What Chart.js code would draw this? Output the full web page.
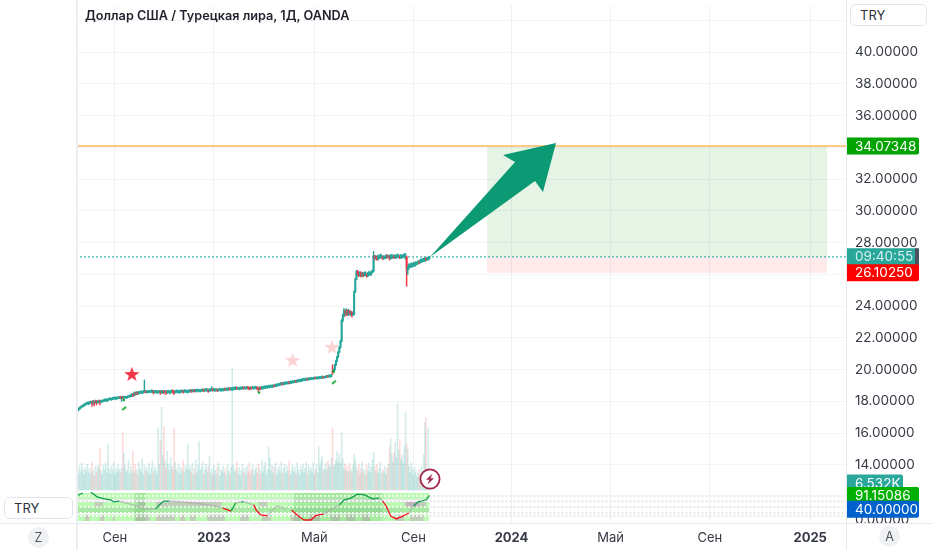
<!DOCTYPE html>
<html><head><meta charset="utf-8">
<script src="https://cdn.jsdelivr.net/npm/chart.js@4"></script>
<style>
html,body{margin:0;padding:0;background:#fff;overflow:hidden}
#wrap{position:relative;width:932px;height:550px;font-family:Inter,sans-serif;color:#2e313a}
canvas{position:absolute;left:0;top:0}
.t{position:absolute;white-space:nowrap}
#title{left:85px;top:8px;font-size:12.7px;font-weight:600;color:#1f222b}
.box{position:absolute;border:1px solid #e3e5ea;border-radius:5px;box-sizing:border-box;font-size:13px;line-height:20px;padding-left:9px;background:#fff;color:#2e313a}
.circ{position:absolute;width:21px;height:21px;border-radius:50%;background:#eff1f5;text-align:center;font-size:12.5px;line-height:21px;color:#50535e}
.vl{position:absolute;width:1px;background:#e7e9ee}
#bolt{position:absolute;left:419px;top:468px;width:22px;height:22px}
</style></head>
<body><div id="wrap">
<canvas id="c" width="932" height="550"></canvas>
<div class="vl" style="left:76px;top:0;height:550px;width:2px;background:#eceef2"></div>
<div class="vl" style="left:846px;top:0;height:550px"></div>
<div class="vl" style="left:0;top:523px;height:1px;width:932px"></div>
<div class="t" id="title">Доллар США / Турецкая лира, 1Д, OANDA</div>
<div class="box" style="left:850px;top:4px;width:77px;height:22px">TRY</div>
<div class="box" style="left:4px;top:497px;width:69px;height:22px">TRY</div>
<div class="circ" style="left:28px;top:527px">Z</div>
<div class="circ" style="left:879px;top:526px">A</div>
<svg id="bolt" viewBox="0 0 22 22"><circle cx="11" cy="11" r="9.6" fill="#fff" stroke="#a4264a" stroke-width="1.8"/><path d="M13.6 5.5 L7 11.8 L10.4 11.8 L8.4 16.5 L15 10.2 L11.6 10.2 Z" fill="#a4264a"/></svg>
</div>
<script>
const candleOpen=[
17.25,17.33,17.42,17.50,17.58,17.63,17.68,17.72,17.78,17.82,
17.86,17.88,17.90,17.93,17.96,17.88,17.98,17.94,18.00,17.92,
17.97,18.02,17.96,18.00,18.00,18.03,18.08,18.03,18.06,18.12,
18.14,18.10,18.13,18.18,18.20,18.16,18.19,18.19,18.22,18.25,
18.23,18.26,18.24,18.23,18.22,18.25,18.28,18.30,18.33,18.37,
18.42,18.38,18.52,18.46,18.56,18.50,18.50,18.54,18.52,18.56,
18.62,18.64,18.58,18.57,18.60,18.58,18.60,18.59,18.62,18.58,
18.61,18.55,18.58,18.60,18.62,18.56,18.55,18.64,18.60,18.63,
18.55,18.60,18.54,18.57,18.61,18.66,18.60,18.56,18.62,18.58,
18.61,18.57,18.60,18.61,18.64,18.62,18.60,18.63,18.58,18.61,
18.66,18.68,18.64,18.66,18.70,18.65,18.68,18.64,18.67,18.63,
18.66,18.69,18.73,18.68,18.71,18.66,18.70,18.66,18.67,18.70,
18.78,18.72,18.67,18.70,18.74,18.68,18.73,18.68,18.71,18.69,
18.72,18.78,18.74,18.72,18.75,18.80,18.76,18.72,18.78,18.77,
18.80,18.86,18.81,18.77,18.80,18.79,18.82,18.87,18.83,18.81,
18.84,18.88,18.84,18.80,18.86,18.82,18.82,18.85,18.83,18.86,
18.82,18.78,18.86,18.80,18.81,18.84,18.85,18.88,18.87,18.90,
18.89,18.92,18.91,18.94,19.00,18.96,18.97,19.00,19.01,19.04,
19.10,19.14,19.08,19.09,19.12,19.11,19.14,19.20,19.17,19.16,
19.19,19.19,19.22,19.28,19.24,19.30,19.25,19.28,19.29,19.32,
19.38,19.33,19.36,19.42,19.38,19.37,19.41,19.39,19.42,19.44,
19.48,19.45,19.43,19.46,19.48,19.45,19.49,19.54,19.50,19.52,
19.55,19.58,19.55,19.55,19.58,19.90,19.85,20.00,20.30,20.55,
20.80,21.10,21.40,21.80,23.10,23.40,23.70,23.55,23.75,23.50,
23.70,23.55,23.60,23.45,23.50,24.90,25.70,26.15,26.05,25.95,
26.10,25.90,26.05,25.95,25.95,26.00,25.90,26.05,25.95,26.00,
26.15,26.20,27.15,27.00,27.10,26.95,27.00,27.05,27.05,27.10,
27.00,27.00,27.05,27.18,27.10,27.15,27.00,27.00,27.08,27.15,
27.05,27.02,27.10,27.05,27.12,27.03,27.05,27.10,27.15,27.00,
27.10,26.30,26.45,26.42,26.50,26.48,26.55,26.52,26.60,26.62,
26.70,26.80,26.75,26.78,26.82,26.80,26.88,27.00,26.92,26.95,26.98];
const candleClose=[
17.33,17.42,17.50,17.58,17.63,17.68,17.72,17.78,17.82,17.86,
17.88,17.90,17.93,17.96,17.88,17.98,17.94,18.00,17.92,17.97,
18.02,17.96,18.00,18.05,18.03,18.08,18.10,18.06,18.12,18.14,
18.16,18.13,18.18,18.20,18.22,18.19,18.24,18.22,18.25,18.23,
18.26,18.24,18.27,18.26,18.25,18.28,18.30,18.33,18.37,18.42,
18.38,18.52,18.46,18.56,18.50,18.58,18.54,18.60,18.56,18.62,
18.64,18.58,18.62,18.60,18.63,18.60,18.65,18.62,18.58,18.61,
18.63,18.58,18.60,18.62,18.56,18.64,18.58,18.60,18.63,18.55,
18.60,18.64,18.57,18.61,18.66,18.60,18.56,18.62,18.65,18.61,
18.63,18.60,18.66,18.64,18.62,18.67,18.63,18.65,18.61,18.66,
18.68,18.64,18.66,18.70,18.65,18.68,18.72,18.67,18.70,18.66,
18.69,18.73,18.68,18.71,18.75,18.70,18.66,18.74,18.70,18.78,
18.72,18.76,18.70,18.74,18.68,18.73,18.77,18.71,18.75,18.72,
18.78,18.74,18.79,18.75,18.80,18.76,18.82,18.78,18.84,18.80,
18.86,18.81,18.84,18.80,18.85,18.82,18.87,18.83,18.86,18.84,
18.88,18.84,18.80,18.86,18.82,18.88,18.85,18.90,18.86,18.82,
18.78,18.86,18.80,18.88,18.84,18.92,18.88,18.94,18.90,18.96,
18.92,18.98,18.94,19.00,18.96,19.04,19.00,19.08,19.04,19.10,
19.14,19.08,19.16,19.12,19.18,19.14,19.20,19.17,19.23,19.19,
19.26,19.22,19.28,19.24,19.30,19.33,19.28,19.36,19.32,19.38,
19.40,19.36,19.42,19.38,19.44,19.41,19.46,19.42,19.44,19.48,
19.45,19.50,19.46,19.48,19.52,19.49,19.54,19.50,19.52,19.55,
19.58,19.55,19.62,19.58,19.66,19.85,20.00,20.30,20.55,20.80,
21.10,21.40,21.80,23.10,23.40,23.70,23.55,23.75,23.50,23.70,
23.55,23.60,23.45,23.50,24.90,25.70,26.15,26.05,25.95,26.10,
25.90,26.05,25.95,26.10,26.00,25.90,26.05,26.10,26.00,26.15,
26.20,27.15,27.00,27.10,26.95,27.15,27.05,27.20,27.10,27.00,
27.12,27.05,27.18,27.10,27.15,27.00,27.20,27.08,27.15,27.05,
27.18,27.10,27.20,27.12,27.05,27.18,27.10,27.15,27.25,27.10,
26.30,26.45,26.60,26.50,26.65,26.55,26.70,26.60,26.75,26.70,
26.80,26.75,26.90,26.82,26.95,26.88,27.00,26.92,27.02,26.98,27.10];
const candleHigh=[
17.40,17.50,17.56,17.64,17.70,17.74,17.78,17.84,17.88,17.92,
17.96,17.96,18.00,18.02,18.02,18.06,18.04,18.08,18.06,18.04,
18.08,18.08,18.06,18.10,18.10,18.14,18.16,18.14,18.18,18.20,
18.22,18.20,18.24,18.26,18.28,18.26,18.30,18.28,18.30,18.30,
18.32,18.31,18.33,18.32,18.31,18.34,18.36,18.40,18.43,18.50,
18.48,18.60,18.56,18.62,18.60,18.64,18.62,18.66,18.64,18.68,
19.35,18.68,18.68,18.68,18.70,18.68,18.72,18.72,18.68,18.68,
18.70,18.68,18.66,18.68,18.68,18.70,18.68,18.66,18.70,18.68,
18.66,18.70,18.68,18.68,18.72,18.72,18.66,18.68,18.72,18.71,
18.70,18.68,18.72,18.72,18.70,18.74,18.72,18.72,18.70,18.72,
18.74,18.74,18.72,18.76,18.76,18.74,18.78,18.78,18.76,18.76,
18.75,18.80,18.78,18.77,18.82,18.80,18.76,18.80,18.80,18.92,
18.82,18.82,18.80,18.80,18.78,18.79,18.83,18.81,18.81,18.80,
18.84,18.84,18.85,18.85,18.86,18.86,18.88,18.88,18.90,18.90,
18.92,18.90,18.90,18.88,18.91,18.90,18.93,18.92,18.92,18.90,
18.94,18.92,18.90,18.92,18.92,18.94,18.92,18.96,18.94,18.92,
18.88,18.92,18.92,18.94,18.94,18.98,18.96,19.00,18.98,19.02,
19.00,19.04,19.02,19.06,19.04,19.10,19.08,19.14,19.12,19.16,
19.20,19.18,19.22,19.20,19.24,19.22,19.26,19.25,19.29,19.27,
19.32,19.30,19.34,19.32,19.36,19.39,19.36,19.42,19.40,19.44,
19.46,19.44,19.48,19.46,19.50,19.48,19.52,19.50,19.50,19.54,
19.53,19.56,19.54,19.54,19.58,19.56,19.60,19.58,19.58,19.61,
19.64,19.63,19.68,19.66,19.72,20.30,20.05,20.35,20.60,20.85,
21.15,21.45,21.85,23.15,23.50,23.85,23.75,23.85,23.75,23.80,
23.72,23.70,23.65,23.58,24.95,25.75,26.25,26.25,26.15,26.18,
26.15,26.12,26.10,26.16,26.15,26.05,26.12,26.20,26.12,26.22,
26.28,27.45,27.20,27.18,27.15,27.22,27.20,27.28,27.25,27.15,
27.18,27.15,27.24,27.22,27.22,27.18,27.26,27.25,27.22,27.20,
27.25,27.22,27.28,27.25,27.18,27.26,27.22,27.24,27.32,27.30,
27.15,26.55,26.68,26.65,26.72,26.70,26.76,26.74,26.80,26.78,
26.86,26.85,26.95,26.96,27.02,27.00,27.06,27.05,27.08,27.08,27.14];
const candleLow=[
17.25,17.30,17.40,17.48,17.55,17.60,17.65,17.68,17.75,17.78,
17.82,17.78,17.84,17.88,17.68,17.82,17.72,17.88,17.78,17.88,
17.90,17.78,17.90,17.96,17.96,17.98,18.04,17.98,18.02,18.08,
18.10,18.06,18.10,18.12,18.14,18.10,18.16,18.16,18.18,18.16,
18.00,18.17,18.18,18.20,18.19,18.20,18.24,18.26,18.28,18.30,
18.30,18.34,18.40,18.42,18.42,18.46,18.48,18.50,18.50,18.52,
18.56,18.52,18.54,18.52,18.56,18.54,18.56,18.54,18.46,18.52,
18.55,18.50,18.50,18.54,18.44,18.52,18.50,18.48,18.54,18.42,
18.50,18.56,18.46,18.52,18.56,18.50,18.44,18.52,18.56,18.52,
18.54,18.50,18.56,18.56,18.52,18.58,18.54,18.58,18.52,18.56,
18.60,18.56,18.58,18.62,18.58,18.60,18.62,18.58,18.62,18.60,
18.62,18.64,18.60,18.62,18.66,18.62,18.56,18.62,18.64,18.66,
18.64,18.66,18.62,18.66,18.62,18.64,18.68,18.62,18.66,18.64,
18.68,18.68,18.70,18.68,18.72,18.70,18.72,18.68,18.74,18.72,
18.76,18.74,18.76,18.72,18.76,18.74,18.78,18.76,18.78,18.76,
18.78,18.76,18.72,18.76,18.76,18.78,18.76,18.80,18.78,18.74,
18.62,18.74,18.72,18.76,18.76,18.82,18.80,18.84,18.82,18.86,
18.84,18.88,18.86,18.90,18.90,18.94,18.94,18.98,18.98,19.00,
19.04,19.02,19.04,19.06,19.08,19.08,19.10,19.10,19.12,19.12,
19.16,19.16,19.18,19.18,19.20,19.26,19.22,19.24,19.26,19.28,
19.32,19.30,19.32,19.32,19.34,19.34,19.36,19.36,19.38,19.40,
19.40,19.42,19.40,19.42,19.44,19.44,19.46,19.44,19.46,19.48,
19.50,19.50,19.52,19.52,19.54,19.70,19.80,19.95,20.25,20.50,
20.75,21.05,21.35,21.75,23.00,23.35,23.35,23.45,23.40,23.40,
23.45,23.40,23.30,23.40,23.45,24.85,25.65,25.95,25.85,25.88,
25.82,25.85,25.85,25.90,25.90,25.82,25.85,26.00,25.92,25.95,
26.10,26.15,26.90,26.98,26.88,26.90,26.98,27.00,27.02,26.92,
26.95,26.98,27.00,27.02,27.05,26.90,26.95,27.00,27.05,26.98,
27.00,27.02,27.05,27.05,26.98,27.00,27.02,27.05,27.08,26.95,
25.25,26.00,26.30,26.42,26.45,26.45,26.50,26.50,26.55,26.60,
26.65,26.65,26.70,26.75,26.78,26.80,26.82,26.85,26.88,26.90,26.95];
const volumeK=[
16,20,15,22,17,25,19,14,21,18,
24,16,20,15,26,18,13,22,17,23,
21,39,18,14,23,19,25,16,42,20,
15,22,18,26,14,20,17,24,19,16,
21,53,34,23,17,19,28,15,22,18,
36,16,24,19,14,26,20,17,29,15,
23,18,21,16,25,14,20,28,17,22,
19,15,58,24,46,77,32,59,27,21,
36,24,18,30,22,19,58,26,20,17,
24,15,21,18,27,16,23,20,42,19,
22,17,25,14,20,28,16,23,45,18,
21,26,15,19,24,17,22,31,16,20,
14,23,18,15,21,25,13,19,17,22,
16,20,14,24,18,15,21,113,23,17,
19,26,15,21,13,18,24,16,20,14,
22,17,25,15,19,23,14,18,21,16,
24,20,15,28,17,22,26,14,19,40,
30,18,23,16,21,25,14,19,22,17,
26,15,20,24,16,22,18,27,14,19,
23,17,21,15,25,19,14,22,18,24,
16,20,26,15,23,18,21,17,25,14,
19,24,16,40,22,27,31,18,20,25,
19,27,23,21,30,58,22,24,28,36,
26,33,25,53,29,20,24,18,22,17,
25,19,16,23,33,28,21,18,24,15,
20,26,17,19,14,23,18,25,16,21,
28,35,22,18,24,16,20,26,15,19,
17,22,14,20,24,40,48,33,26,35,
45,30,80,37,47,28,33,25,40,72,
43,38,22,16,25,19,14,21,17,12,
15,19,13,22,16,33,63,67,20,58,6.532];

const xTickBars=[34,121,209,296,382,469,556,644];
const xTickLabels=['Сен','2023','Май','Сен','2024','Май','Сен','2025'];
const yTickValues=[14,16,18,20,22,24,26,28,30,32,34,36,38,40,42];

const targetPrice=34.07348, lastPrice=27.1, stopPrice=26.1025;
const positionStartBar=360.5, positionEndBar=658.8, lastBar=310, axisEndBar=675.4;

const arrowBars=[421.05,374.56,385.1,310.5,402.6,409.6];
const arrowPrices=[34.27,33.51,33.07,27.09,31.88,31.18];

const starBars=[49,190,224.6];
const starPrices=[19.72,20.6,21.42];
const starColors=['#f23645','#fbd3d2','#fbd3d2'];
const tickMarkBars=[[40.4,44],[224.6,228]];
const tickMarkPrices=[[17.46,17.65],[19.1,19.3]];
const dotBars=[42,160.5,226];
const dotPrices=[18.09,18.56,19.87];

const rsiBars=[0,6,13,19,25,31,33,38,50,59,70,73,77,82,105,117,129,136,140,145,147,156,158,162,168,171,177,184,189,195,200,206,210,213,217,231,235,241,247,253,260,266,269,272,276,281,287,292,296,300,307,310];
const rsiValues=[88,100,103,85,78,74,67,70,56,41,41,56,70,70,63,56,44,33,63,67,67,56,37,19,15,33,52,41,37,15,0,0,15,19,22,56,74,81,96,93,78,81,70,52,15,4,15,26,52,67,74,91.15];
const rsiTones=['g','x','g','g','g','g','g','n','n','n','g','g','g','n','n','n','r','g','n','g','n','r','r','r','n','n','n','x','r','r','r','r','r','r','n','g','g','g','g','g','g','n','r','r','r','r','r','n','g','g','g','g'];

const bandTops=[100,78,67,48,26,19];
const bandBottoms=[78,67,48,26,19,-4];
const bandColors=['#bdfab4','#ebe9ec','#bdfab4','#a8e8a2','#f6f6f6','#bdfab4'];
const darkZoneStart=[51,191];
const darkZoneEnd=[61,269];
const upperBlockStart=[16,54,70,160,288,290];
const upperBlockEnd=[24,61,128,168,301,307];
const lowerBlockStart=[8,21,32,52,70,91,100,115,144,163,188,204,223,237,251,280,293];
const lowerBlockEnd=[12,25,34,65,87,96,105,131,152,171,197,214,232,245,258,288,305];
const dottedValues=[89,70,48,26,15];

const tagTexts=['34.07348','09:40:55','26.10250','6.532K','91.15086','40.00000'];
const tagValues=[34.07348,27.1,26.1025,6.532,91.15086,40];
const tagScales=['y','y','y','yVol','yInd','yInd'];
const tagColors=['#00a300','#2aa79b','#ff0000','#2aa79b','#00b000','#0060cc'];
const tagRights=[919,919,919,903,919,919];
const zeroLabel='0.00000', zeroValue=0;

const FONT='Inter, sans-serif';
const UP='#26a69a', DOWN='#f23645';
const isUp=i=>candleClose[i]>=candleOpen[i];

function starImage(color,size){
  const c=document.createElement('canvas');c.width=c.height=size;
  const g=c.getContext('2d');g.fillStyle=color;g.beginPath();
  for(let k=0;k<10;k++){
    const r=k%2?size*0.2:size*0.5,a=-Math.PI/2+k*Math.PI/5;
    g[k?'lineTo':'moveTo'](size/2+r*Math.cos(a),size/2+size*0.04+r*Math.sin(a));
  }
  g.closePath();g.fill();return c;
}
const pts=(xs,ys)=>xs.map((x,i)=>({x,y:ys[i]}));
const hline=(a,b,v)=>[{x:a,y:v},{x:b,y:v}];
const datasets=[];
const addFill=(a,b,top,bot,color,axis,order)=>datasets.push({type:'line',data:hline(a,b,top),yAxisID:axis,fill:{value:bot},backgroundColor:color,borderWidth:0,pointRadius:0,order});

/* indicator pane */
dottedValues.forEach(v=>datasets.push({type:'line',data:hline(lastBar,axisEndBar,v),yAxisID:'yInd',borderColor:'#dfe1e5',borderWidth:1.5,borderDash:[2,2],pointRadius:0,order:60}));
bandTops.forEach((t,i)=>addFill(0,lastBar,t,bandBottoms[i],bandColors[i],'yInd',58-i));
upperBlockStart.forEach((s,i)=>addFill(s,upperBlockEnd[i],67,48,'rgba(195,140,190,.4)','yInd',50));
lowerBlockStart.forEach((s,i)=>addFill(s,lowerBlockEnd[i],19,-4,'rgba(195,140,190,.4)','yInd',50));
darkZoneStart.forEach((s,i)=>addFill(s,darkZoneEnd[i],100,-4,'rgba(60,160,70,.18)','yInd',49));
dottedValues.forEach(v=>datasets.push({type:'line',data:hline(0,lastBar,v),yAxisID:'yInd',borderColor:'#ffffff',borderWidth:1.5,borderDash:[2,2],pointRadius:0,order:48}));
datasets.push({type:'line',data:pts(rsiBars,rsiValues),yAxisID:'yInd',borderWidth:1.3,pointRadius:0,order:47,
  borderColor:'#bbb',segment:{borderColor:c=>({g:'#0f9d4a',r:'#f5141e',n:'rgba(170,170,170,.7)',x:'rgba(0,0,0,0)'}[rsiTones[c.p0DataIndex]])}});

/* volume */
datasets.push({type:'bar',data:volumeK.map((v,i)=>({x:i,y:v})),yAxisID:'yVol',barThickness:1,grouped:false,
  backgroundColor:volumeK.map((v,i)=>isUp(i)?'rgba(38,166,154,.2)':'rgba(239,83,80,.2)'),order:45});

/* position box */
addFill(positionStartBar,positionEndBar,targetPrice,lastPrice,'rgba(76,175,80,.14)','y',40);
addFill(positionStartBar,positionEndBar,lastPrice,stopPrice,'rgba(242,54,69,.11)','y',40);
datasets.push({type:'line',data:hline(0,axisEndBar,targetPrice),borderColor:'#f9cb86',borderWidth:2,pointRadius:0,order:30});
datasets.push({type:'line',data:hline(0,axisEndBar,lastPrice),borderColor:'#45b3a8',borderWidth:1.2,borderDash:[2,2],pointRadius:0,order:30});

/* candles */
const idx=candleOpen.map((_,i)=>i);
datasets.push({type:'bar',data:idx.map(i=>({x:i,y:[candleLow[i],candleHigh[i]]})),barThickness:0.8,grouped:false,
  backgroundColor:idx.map(i=>isUp(i)?UP:DOWN),order:20});
datasets.push({type:'bar',data:idx.map(i=>({x:i,y:[candleOpen[i],candleClose[i]]})),barThickness:1.3,grouped:false,minBarLength:1,
  backgroundColor:idx.map(i=>isUp(i)?UP:DOWN),order:19});

/* markers */
datasets.push({type:'line',showLine:false,data:pts(starBars,starPrices),pointStyle:starColors.map(c=>starImage(c,16)),order:10});
tickMarkBars.forEach((b,i)=>datasets.push({type:'line',data:pts(b,tickMarkPrices[i]),borderColor:'#35b34a',borderWidth:2,pointRadius:0,order:10}));
datasets.push({type:'line',showLine:false,data:pts(dotBars,dotPrices),pointRadius:1.3,pointBackgroundColor:'#1fa83f',pointBorderWidth:0,order:10});

const polygonPlugin={id:'arrow',afterDatasetsDraw(ch){
  const {ctx,scales:{x,y}}=ch;ctx.save();ctx.fillStyle='#0b9a74';ctx.beginPath();
  arrowBars.forEach((b,i)=>ctx[i?'lineTo':'moveTo'](x.getPixelForValue(b),y.getPixelForValue(arrowPrices[i])));
  ctx.closePath();ctx.fill();ctx.restore();
}};
const tagPlugin={id:'tags',afterDraw(ch){
  const {ctx,scales}=ch;ctx.save();ctx.textBaseline='middle';ctx.textAlign='left';ctx.font='13.5px '+FONT;
  ctx.fillStyle='#363a45';ctx.fillText(zeroLabel,855,scales.yInd.getPixelForValue(zeroValue));
  tagTexts.forEach((t,i)=>{
    const p=scales[tagScales[i]].getPixelForValue(tagValues[i]);
    ctx.fillStyle=tagColors[i];ctx.beginPath();ctx.roundRect(847,p-8.5,tagRights[i]-847,17,[0,2,2,0]);ctx.fill();
    if(t==='09:40:55'){ctx.fillStyle='#4d5160';ctx.fillRect(915,p-8.5,4,17);}
    ctx.fillStyle=t==='09:40:55'?'#d5f2ee':'#fff';ctx.fillText(t,855,p+0.5);
  });
  ctx.restore();
}};
const noPad=s=>{s.paddingTop=0;s.paddingBottom=0;s.paddingLeft=0;s.paddingRight=0;};

new Chart(document.getElementById('c'),{
  type:'bar',
  data:{datasets},
  plugins:[polygonPlugin,tagPlugin],
  options:{
    responsive:false,animation:false,events:[],
    layout:{padding:{left:76,right:0,top:0,bottom:0}},
    plugins:{legend:{display:false},tooltip:{enabled:false},title:{display:false}},
    scales:{
      x:{type:'linear',offset:false,min:0,max:axisEndBar,
        afterBuildTicks:s=>{s.ticks=xTickBars.map(v=>({value:v}));},
        afterFit:s=>{s.height=27;noPad(s);},
        grid:{color:'#f0f1f4',drawTicks:false,offset:false},
        border:{color:'#e3e5ea'},
        ticks:{autoSkip:false,maxRotation:0,padding:7,color:'#363a45',
          font:c=>({family:FONT,size:13,weight:c.tick&&/^\d/.test(xTickLabels[xTickBars.indexOf(c.tick.value)]||'')?'700':'400'}),
          callback:v=>xTickLabels[xTickBars.indexOf(v)]}},
      y:{position:'right',min:10.34,max:42.96,
        afterBuildTicks:s=>{s.ticks=yTickValues.map(v=>({value:v}));},
        afterFit:s=>{s.width=86;noPad(s);},
        grid:{color:'#f3f4f6',drawTicks:false},
        border:{color:'#e3e5ea'},
        ticks:{padding:9,color:'#363a45',font:{family:FONT,size:13.5},
          callback:v=>v===42?'':v.toFixed(5)}},
      yVol:{display:false,min:-30.7,max:451},
      yInd:{display:false,min:-11.1,max:1907.4}
    }
  }
});
</script>
</body></html>
